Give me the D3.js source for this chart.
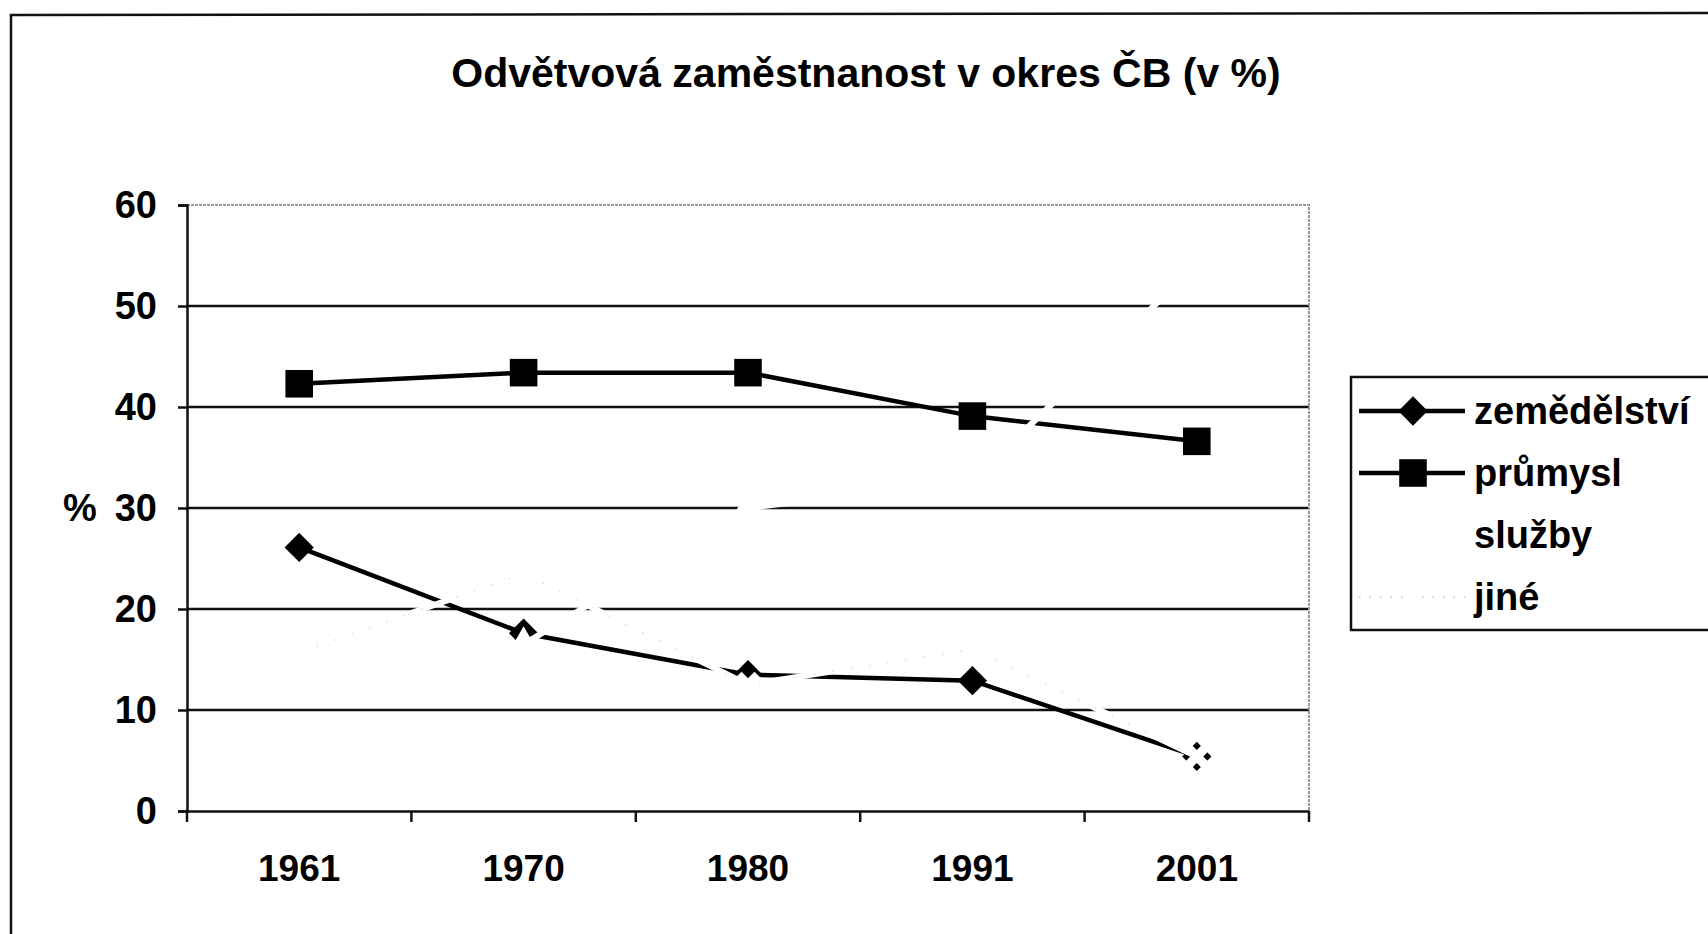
<!DOCTYPE html>
<html>
<head>
<meta charset="utf-8">
<script src="https://cdn.jsdelivr.net/npm/d3@7"></script>
<style>
body { margin: 0; background: #fff; }
text { font-family: "Liberation Sans", Arial, sans-serif; fill: #000; font-weight: bold; }
</style>
</head>
<body>
<div id="canvas"></div>
<script>
// data
var years = ["1961", "1970", "1980", "1991", "2001"];
var zemedelstvi = [26.1, 17.6, 13.5, 12.9, 5.4];
var prumysl = [42.3, 43.4, 43.4, 39.1, 36.6];
var sluzby = [15.5, 16.5, 30.0, 32.7, 54.1];
var jine = [15.7, 23.5, 12.5, 16.0, 5.4];
var seriesNames = ["zemědělství", "průmysl", "služby", "jiné"];
var yTicks = [0, 10, 20, 30, 40, 50, 60];

var W = 1708, H = 934;
var margin = {top: 205, right: 399, bottom: 123, left: 187};
var width = W - margin.left - margin.right,
    height = H - margin.top - margin.bottom;

var svg = d3.select("#canvas")
  .append("svg")
  .attr("width", W)
  .attr("height", H);

// outer frame of the chart (cut by the scan on right/bottom)
svg.append("path")
  .attr("d", "M11," + H + " L11,15 L" + W + ",13")
  .attr("fill", "none")
  .attr("stroke", "#111")
  .attr("stroke-width", 2.5);

svg.append("text")
  .attr("x", 866)
  .attr("y", 87)
  .attr("text-anchor", "middle")
  .style("font-size", "41px")
  .text("Odvětvová zaměstnanost v okres ČB (v %)");

var g = svg.append("g")
  .attr("transform", "translate(" + margin.left + "," + margin.top + ")");

var x = d3.scaleBand().domain(years).range([0, width]).padding(0);
var y = d3.scaleLinear().domain([0, 60]).range([height, 0]);
var cx = function(d, i) { return x(years[i]) + x.bandwidth() / 2; };

// gridlines
g.append("g")
  .selectAll("line")
  .data(yTicks.filter(function(t) { return t > 0 && t < 60; }))
  .enter()
  .append("line")
  .attr("x1", 0).attr("x2", width)
  .attr("y1", function(d) { return y(d); })
  .attr("y2", function(d) { return y(d); })
  .attr("stroke", "#111")
  .attr("stroke-width", 2.5);

// plot area border (grey, top and right)
g.append("path")
  .attr("d", "M0," + y(60) + " H" + width + " V" + y(0))
  .attr("fill", "none")
  .attr("stroke", "#999")
  .attr("stroke-width", 2)
  .attr("stroke-dasharray", "3,1");

// y axis
var yAxis = g.append("g")
  .call(d3.axisLeft(y).tickValues(yTicks).tickSize(9).tickPadding(21));
yAxis.select(".domain").attr("stroke", "#111").attr("stroke-width", 2.5);
yAxis.selectAll(".tick line").attr("stroke", "#111").attr("stroke-width", 2.5);
yAxis.selectAll("text").style("font-size", "38px").attr("fill", "#000");

// x axis, labels centred, ticks on band edges
var xAxis = g.append("g")
  .attr("transform", "translate(0," + height + ")")
  .call(d3.axisBottom(x).tickSize(0).tickPadding(44));
xAxis.select(".domain").attr("stroke", "#111").attr("stroke-width", 2.5);
xAxis.selectAll("text").style("font-size", "37px").attr("fill", "#000");
xAxis.selectAll(".edge")
  .data(years.concat(["end"]))
  .enter()
  .append("line")
  .attr("class", "edge")
  .attr("x1", function(d) { return d == "end" ? width : x(d); })
  .attr("x2", function(d) { return d == "end" ? width : x(d); })
  .attr("y1", 0).attr("y2", 11)
  .attr("stroke", "#111")
  .attr("stroke-width", 2.5);

g.append("text")
  .attr("x", 80 - margin.left)
  .attr("y", y(30))
  .attr("dy", "0.35em")
  .attr("text-anchor", "middle")
  .style("font-size", "38px")
  .text("%");

var line = d3.line()
  .x(cx)
  .y(function(d) { return y(d); });

var diamond = d3.symbol().type(d3.symbolSquare).size(430);
var square = d3.symbol().type(d3.symbolSquare).size(760);
var triangle = d3.symbol().type(d3.symbolTriangle).size(420);
var cross = d3.symbol().type(d3.symbolCross).size(420);

// zemědělství
g.append("path").datum(zemedelstvi)
  .attr("d", line).attr("fill", "none")
  .attr("stroke", "#000").attr("stroke-width", 4.5);
g.selectAll(".zem").data(zemedelstvi).enter().append("path")
  .attr("class", "zem")
  .attr("d", diamond)
  .attr("transform", function(d, i) { return "translate(" + cx(d, i) + "," + y(d) + ") rotate(45)"; })
  .attr("fill", "#000");

// průmysl
g.append("path").datum(prumysl)
  .attr("d", line).attr("fill", "none")
  .attr("stroke", "#000").attr("stroke-width", 4.5);
g.selectAll(".pru").data(prumysl).enter().append("path")
  .attr("class", "pru")
  .attr("d", square)
  .attr("transform", function(d, i) { return "translate(" + cx(d, i) + "," + y(d) + ")"; })
  .attr("fill", "#000");

// služby - printed in a colour that the scan turned white
g.append("path").datum(sluzby)
  .attr("d", line).attr("fill", "none")
  .attr("stroke", "#fff").attr("stroke-width", 6);
g.selectAll(".slu").data(sluzby).enter().append("path")
  .attr("class", "slu")
  .attr("d", triangle)
  .attr("transform", function(d, i) { return "translate(" + cx(d, i) + "," + y(d) + ")"; })
  .attr("fill", "#fff");

// jiné - very light, only a few dots survive the scan
g.append("path").datum(jine)
  .attr("d", line).attr("fill", "none")
  .attr("stroke", "#fff").attr("stroke-width", 6);
g.append("path").datum(jine)
  .attr("d", line).attr("fill", "none")
  .attr("stroke", "#dcdcdc").attr("stroke-width", 1.5)
  .attr("stroke-dasharray", "1.5,17");
g.selectAll(".jin").data(jine).enter().append("path")
  .attr("class", "jin")
  .attr("d", cross)
  .attr("transform", function(d, i) { return "translate(" + cx(d, i) + "," + y(d) + ") rotate(45)"; })
  .attr("fill", "#fff");

// legend
var legend = svg.append("g").attr("transform", "translate(1351,377)");
legend.append("rect")
  .attr("width", 420).attr("height", 253)
  .attr("fill", "#fff")
  .attr("stroke", "#111").attr("stroke-width", 2.5);

var marks = [diamond, square, triangle, cross];
var strokes = ["#000", "#000", "#fff", "#d4d4d4"];
var fills = ["#000", "#000", "#fff", "#fff"];
var rots = [45, 0, 0, 45];

var item = legend.selectAll(".item")
  .data(seriesNames)
  .enter()
  .append("g")
  .attr("class", "item")
  .attr("transform", function(d, i) { return "translate(0," + (34 + i * 62) + ")"; });

item.append("line")
  .attr("x1", 8).attr("x2", 114)
  .attr("stroke", function(d, i) { return strokes[i]; })
  .attr("stroke-width", function(d, i) { return i == 3 ? 2 : 4.5; })
  .attr("stroke-dasharray", function(d, i) { return i == 3 ? "1.5,9" : null; });
item.append("path")
  .attr("d", function(d, i) { return marks[i](); })
  .attr("transform", function(d, i) { return "translate(62,0) rotate(" + rots[i] + ")"; })
  .attr("fill", function(d, i) { return fills[i]; });
item.append("text")
  .attr("x", 123)
  .attr("dy", "0.35em")
  .style("font-size", "38px")
  .text(function(d) { return d; });
</script>
</body>
</html>
